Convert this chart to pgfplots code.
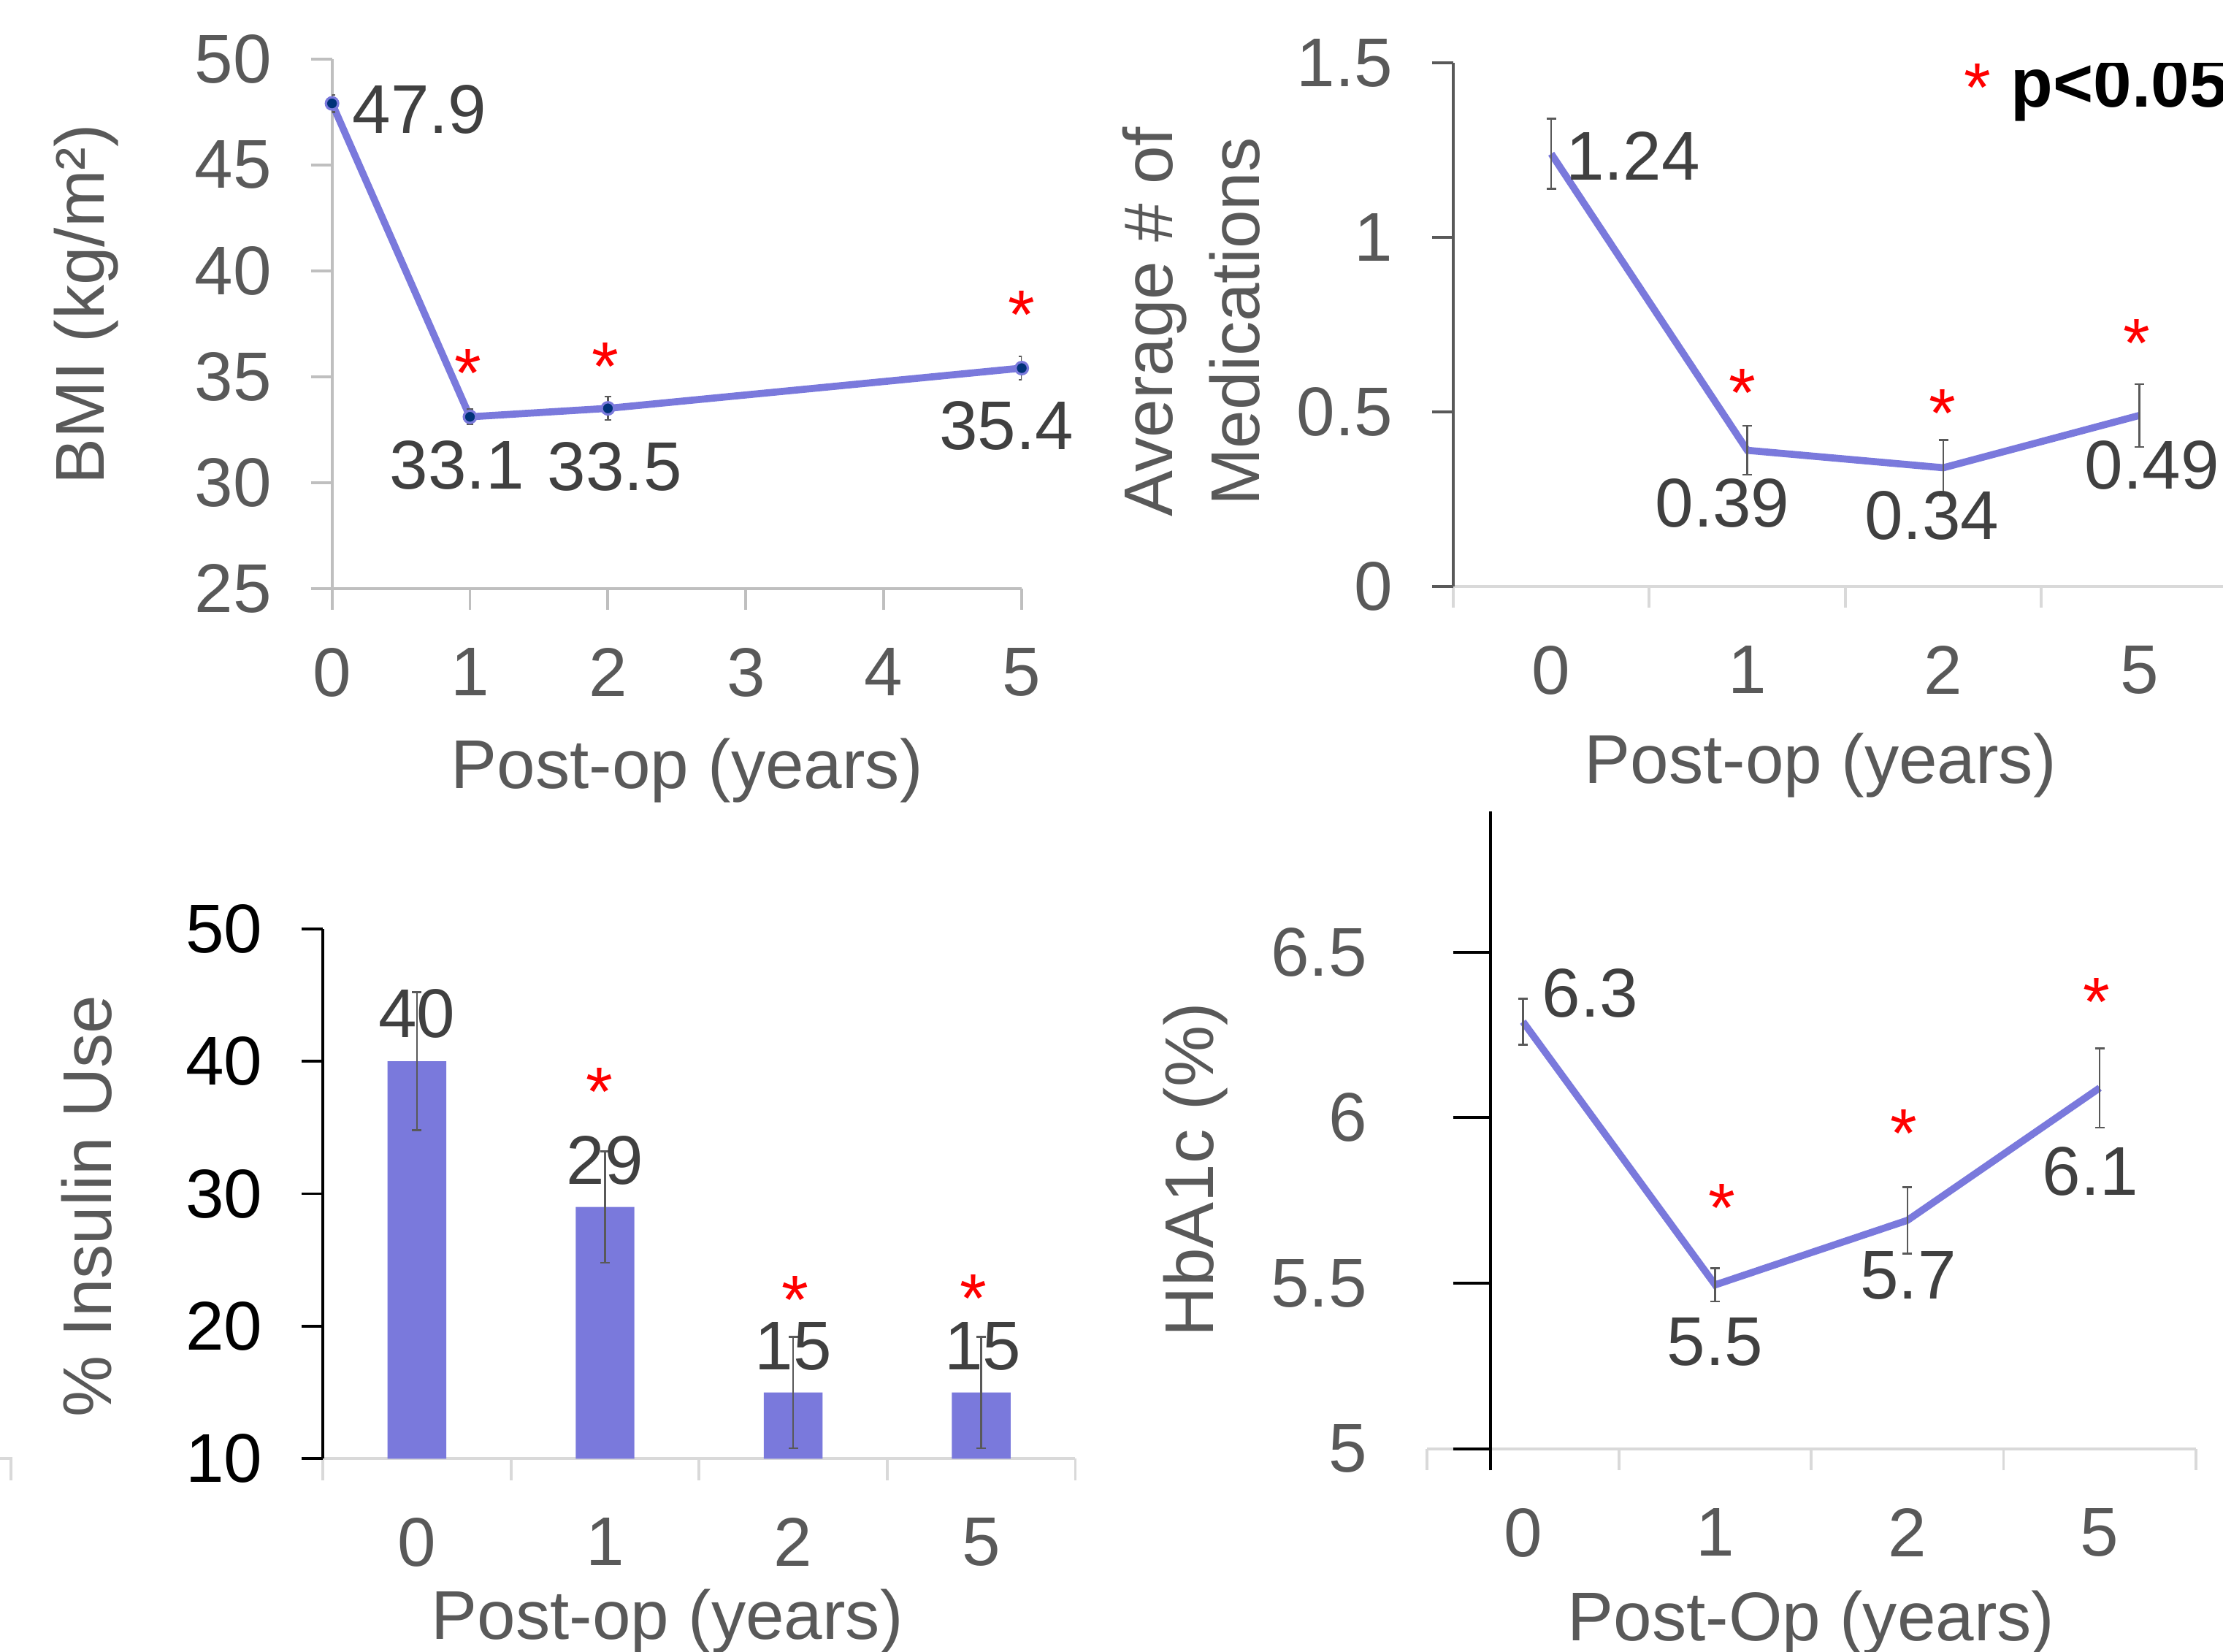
\documentclass[border=0pt]{standalone}
\usepackage{pgfplots}
\pgfplotsset{compat=1.18}
\usepackage{fontspec}
\setmainfont{Liberation Sans}
\newcommand\fnt{\fontsize{14.6}{17.5}\selectfont}
\definecolor{series}{RGB}{122,121,220}
\definecolor{navy}{RGB}{0,50,120}
\definecolor{axgray}{RGB}{191,191,191}
\definecolor{catgray}{RGB}{217,217,217}
\definecolor{txtgray}{RGB}{89,89,89}
\definecolor{lblgray}{RGB}{64,64,64}

\pgfplotsset{
  panel/.style={scale only axis, anchor=south west,
    axis x line*=bottom, axis y line*=left,
    tick align=outside, major tick length=4.5pt, minor tick length=4.5pt,
    /pgf/number format/assume math mode=true,
    tick label style={font=\fnt, text=txtgray, inner sep=0pt},
    xticklabel shift=7.9pt, yticklabel shift=8.1pt},
  cat/.style={xmin=-0.5, xmax=3.5, xtick={0,1,2,3}, xticklabels={0,1,2,5},
    minor xtick={-0.5,0.5,1.5,2.5,3.5},
    x axis line style={catgray, line width=0.6pt},
    major x tick style={draw=none},
    minor x tick style={catgray, line width=0.6pt}},
  vlabels/.style={only marks, mark=none, point meta=explicit symbolic,
    nodes near coords, nodes near coords align=center,
    every node near coord/.append style={anchor=center, inner sep=0pt,
      font=\fnt, text=lblgray}},
  stars/.style={only marks, mark=none, nodes near coords={*},
    nodes near coords align=center,
    every node near coord/.append style={anchor=center, inner sep=0pt,
      font=\fnt, text=red, yshift=-2pt}},
  errs/.style={error bars/y dir=both, error bars/y explicit,
    error bars/error bar style={txtgray, line width=0.4pt},
    error bars/error mark options={rotate=90, txtgray, line width=0.4pt, mark size=#1}},
}

\begin{document}
\begin{tikzpicture}
\path[use as bounding box] (0,0) rectangle (470.4pt,349.5pt);

% ---------- BMI ----------
\begin{axis}[panel, at={(70.26pt,225pt)}, width=145.95pt, height=112.02pt,
  xmin=0, xmax=5, ymin=25, ymax=50,
  xtick={0,1,2,3,4,5}, ytick={25,30,35,40,45,50},
  axis line style={axgray, line width=0.6pt},
  tick style={axgray, line width=0.6pt}]
\addplot[series, line width=1.5pt, mark=*, mark size=1.3pt,
  mark options={fill=navy, draw=series, line width=0.5pt}, errs=0.7pt]
  table[x=x, y=y, y error=e] {
x y e
0 47.9 0.4
1 33.1 0.35
2 33.5 0.55
5 35.4 0.55
};
\addplot[vlabels] table[x=x, y=y, meta=lab] {
x y lab
0.634 47.62 47.9
0.906 30.82 33.1
2.05 30.76 33.5
4.889 32.68 35.4
};
\addplot[stars] table[x=x, y=y] {
x y
0.986 35.59
1.98 35.91
5.0 38.37
};
\end{axis}

% ---------- Medications ----------
\begin{axis}[panel, cat, at={(307.5pt,225.42pt)}, width=165.96pt, height=110.73pt,
  ymin=0, ymax=1.5, ytick={0,0.5,1,1.5},
  y axis line style={txtgray, line width=0.6pt},
  ytick style={txtgray, line width=0.6pt}]
\addplot[series, line width=1.5pt, mark=none, errs=1pt]
  table[x=x, y=y, y error=e] {
x y e
0 1.24 0.10
1 0.39 0.07
2 0.34 0.08
3 0.49 0.09
};
\addplot[vlabels] table[x=x, y=y, meta=lab] {
x y lab
0.417 1.234 1.24
0.873 0.239 0.39
1.941 0.202 0.34
3.064 0.347 0.49
};
\addplot[stars] table[x=x, y=y] {
x y
0.976 0.581
1.997 0.522
2.986 0.724
2.176 1.457
};
\node[anchor=base west, inner sep=0pt, font=\fnt\bfseries] at (axis cs:2.341,1.374) {p<0.05};
\end{axis}

% ---------- Insulin ----------
\begin{axis}[panel, cat, at={(68.31pt,40.83pt)}, width=159.24pt, height=112.17pt,
  ymin=10, ymax=50, ytick={10,20,30,40,50},
  y axis line style={black, line width=0.6pt},
  ytick style={black, line width=0.6pt},
  yticklabel style={text=black}]
\addplot[ybar, bar width=12.42pt, fill=series, draw=none, errs=1pt]
  table[x=x, y=y, y error=e] {
x y e
0 40 5.2
1 29 4.2
2 15 4.2
3 15 4.2
};
\addplot[vlabels] table[x=x, y=y, meta=lab] {
x y lab
0 43.56 40
1.0 32.53 29
2.0 18.5 15
3.009 18.5 15
};
\addplot[stars] table[x=x, y=y] {
x y
0.969 38.4
2.012 22.72
2.96 22.8
};
\end{axis}

% ---------- HbA1c ----------
\begin{axis}[panel, cat, at={(301.92pt,42.96pt)}, width=162.72pt, height=134.82pt,
  ymin=5, ymax=6.925, ytick=\empty, y axis line style={draw=none}]
\addplot[series, line width=1.5pt, mark=none, errs=1pt]
  table[x=x, y=y, y error=e] {
x y e
0 6.29 0.07
1 5.495 0.05
2 5.69 0.10
3 6.09 0.12
};
\addplot[vlabels] table[x=x, y=y, meta=lab] {
x y lab
0.35 6.377 6.3
0.999 5.323 5.5
2.004 5.523 5.7
2.952 5.838 6.1
};
\addplot[stars] table[x=x, y=y] {
x y
1.036 5.756
1.982 5.982
2.982 6.377
};
\end{axis}
\begin{axis}[panel, at={(315.45pt,38.4pt)}, width=10pt, height=139.38pt,
  axis x line=none, xmin=0, xmax=1,
  ymin=4.935, ymax=6.925, ytick={5,5.5,6,6.5},
  major tick length=8pt,
  y axis line style={black, line width=0.6pt},
  ytick style={black, line width=0.6pt},
  yticklabel shift=18pt]
\end{axis}

% axis titles
\begin{scope}[every node/.style={font=\fnt, text=txtgray, inner sep=0pt}]
\node[rotate=90] at (18.3pt,285.08pt) {BMI (kg/m²)};
\node at (145.38pt,186.39pt) {Post-op (years)};
\node[rotate=90] at (244.32pt,281.4pt) {Average \# of};
\node[rotate=90] at (261.21pt,281.4pt) {Medications};
\node at (385.2pt,187.5pt) {Post-op (years)};
\node[rotate=90] at (18.36pt,94.29pt) {\% Insulin Use};
\node at (141.21pt,6.42pt) {Post-op (years)};
\node[rotate=90] at (252.96pt,101.97pt) {HbA1c (\%)};
\node at (383.25pt,6.09pt) {Post-Op (years)};
\end{scope}
\draw[catgray, line width=0.6pt] (0,40.83pt) -- (2.25pt,40.83pt) -- (2.25pt,36.3pt);
\end{tikzpicture}
\end{document}
